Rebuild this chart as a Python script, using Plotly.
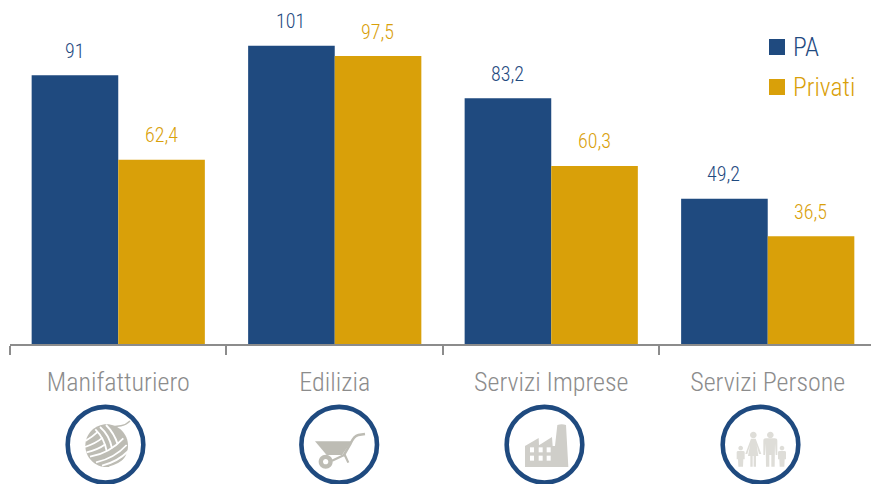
import re
import plotly.graph_objects as go

categories = ["Manifatturiero", "Edilizia", "Servizi Imprese", "Servizi Persone"]
pa_values = [91, 101, 83.2, 49.2]
privati_values = [62.4, 97.5, 60.3, 36.5]
series_names = ["PA", "Privati"]

BLUE = "#1F4A7F"
GOLD = "#D9A009"
GREY = "#8C8C8C"
W, H = 871, 484
L, B = 10, 140
FONT = '"Roboto Condensed", "Liberation Sans Narrow", Roboto, sans-serif'


def fmt(v):
    return f"{v:g}".replace(".", ",")


def px(path, ox=0, oy=0, sx=1 / 3, sy=1 / 3):
    """Convert an SVG path written in pixels to paper coordinates."""
    nums = iter(re.findall(r"[A-Za-z]|-?\d+\.?\d*", path))
    out = []
    for tok in nums:
        if tok.isalpha():
            out.append(tok)
        else:
            x = ox + float(tok) * sx
            y = oy + float(next(nums)) * sy
            out.append(f"{(x - L) / (W - L):.5f},{(H - B - y) / (H - B):.5f}")
    return " ".join(out)


def circ(cx, cy, r):
    return f"M{cx - r} {cy} C{cx - r} {cy - .552 * r} {cx - .552 * r} {cy - r} {cx} {cy - r} C{cx + .552 * r} {cy - r} {cx + r} {cy - .552 * r} {cx + r} {cy} C{cx + r} {cy + .552 * r} {cx + .552 * r} {cy + r} {cx} {cy + r} C{cx - .552 * r} {cy + r} {cx - r} {cy + .552 * r} {cx - r} {cy} Z"


def rect(x0, y0, x1, y1):
    return f"M{x0} {y0} L{x1} {y0} L{x1} {y1} L{x0} {y1} Z"


fig = go.Figure()
fig.add_bar(x=categories, y=pa_values, marker=dict(color=BLUE, line_width=0), name=series_names[0], showlegend=False)
fig.add_bar(x=categories, y=privati_values, marker=dict(color=GOLD, line_width=0), name=series_names[1], showlegend=False)

annotations = []
for values, color, shift in [(pa_values, BLUE, -44), (privati_values, GOLD, 43)]:
    for cat, v in zip(categories, values):
        annotations.append(dict(
            x=cat, y=v, text=fmt(v), showarrow=False, xshift=shift, yshift=24.6,
            yanchor="middle", font=dict(family=FONT, size=20, color=color, weight=300),
        ))

shapes = []


def add(path, fill=None, line=None, width=0, ox=0, oy=0, sx=1 / 3, sy=1 / 3):
    shapes.append(dict(
        type="path", xref="paper", yref="paper", path=px(path, ox, oy, sx, sy),
        fillcolor=fill or "rgba(0,0,0,0)",
        line=dict(color=line or "rgba(0,0,0,0)", width=width),
    ))


# legend
for name, color, yc in zip(series_names, [BLUE, GOLD], [47, 87]):
    add(rect(769, yc - 8, 785, yc + 8), fill=color, sx=1, sy=1)
    annotations.append(dict(
        xref="paper", yref="paper", x=(793 - L) / (W - L), y=(H - B - yc) / (H - B),
        text=name, showarrow=False, xanchor="left", yanchor="middle", xshift=-2.5,
        font=dict(family=FONT, size=25.5, color=color, weight=300),
    ))

# round frames
for cx in [105.5, 339.2, 544.5, 760.5]:
    add(circ(cx, 444.7, 37.8), fill="#FFFFFF", line=BLUE, width=4.6, sx=1, sy=1)

# yarn ball
Y = dict(ox=76, oy=415)
YC = "#BDBCB4"
add(circ(92, 92, 64), fill=YC, **Y)
add("M88 36 Q110 36 135 32 Q150 30 162 18", line=YC, width=1.5, **Y)
for p in [
    "M42 125 Q100 115 142 70", "M60 142 Q115 130 152 90", "M78 152 Q125 140 157 108", "M100 157 Q132 148 153 128",
    "M58 43 Q85 70 92 108", "M72 36 Q100 60 108 100", "M90 30 Q115 55 125 88",
    "M28 78 Q50 65 66 50", "M27 96 Q60 85 80 68", "M32 112 Q65 105 88 88",
]:
    add(p, line="#FFFFFF", width=1.8, **Y)

# wheelbarrow
WB = dict(ox=310, oy=420)
add("M15 64 L125 64 L96 105 L50 105 Z", fill=YC, **WB)
add("M100 108 L122 70 Q132 48 145 45 L165 42", line=YC, width=2.5, **WB)
add("M66 122 L104 104 L115 128", line=YC, width=2.2, **WB)
add(circ(47, 125, 21), fill=YC, **WB)
add(circ(47, 125, 8), fill="#FFFFFF", **WB)

# factory
F = dict(ox=440, oy=340)
FC = "#CFCEC9"
add("M255 381 L255 318 L296 294 L297 316 L336 291 L338 318 L345 318 L352 255 Q365 250 378 255 L385 381 Z", fill=FC, **F)
for y0 in (322, 347):
    for x0 in (270, 296, 320):
        add(rect(x0, y0, x0 + 12, y0 + 15), fill="#FFFFFF", **F)

# family
FM = dict(ox=730, oy=420)
FMC = "#DEDDD8"
add(circ(70, 45, 10), fill=FMC, **FM)
add("M63 56 L77 56 L94 102 L87 102 L80 75 L85 108 L78 108 L78 140 L71 140 L71 108 L68 108 L68 140 L61 140 L61 108 L54 108 L60 75 L52 102 L46 102 Z", fill=FMC, **FM)
add(circ(121, 45, 10), fill=FMC, **FM)
add("M100 62 Q100 55 108 55 L134 55 Q142 55 142 62 L142 105 L137 105 L135 70 L134 140 L124 140 L124 105 L118 105 L118 140 L108 140 L107 70 L105 105 L100 105 Z", fill=FMC, **FM)
for dx in (0, 124):
    add(circ(32 + dx, 84, 7), fill=FMC, **FM)
    add(f"M{20 + dx} 97 Q{20 + dx} 93 {25 + dx} 93 L{39 + dx} 93 Q{44 + dx} 93 {44 + dx} 97 L{44 + dx} 118 L{40 + dx} 118 L{39 + dx} 140 L{25 + dx} 140 L{24 + dx} 118 L{20 + dx} 118 Z", fill=FMC, **FM)

fig.update_layout(
    width=W, height=H,
    margin=dict(l=L, r=0, t=0, b=B),
    paper_bgcolor="#FFFFFF", plot_bgcolor="#FFFFFF",
    barmode="group", bargap=0.2, bargroupgap=0,
    font=dict(family=FONT),
    annotations=annotations, shapes=shapes,
    showlegend=False,
    xaxis=dict(
        type="category", categoryorder="array", categoryarray=categories,
        range=[-0.5, 3.477], tickson="boundaries", ticks="outside", ticklen=9, tickwidth=2,
        tickcolor=GREY, showline=True, linecolor=GREY, linewidth=2, showgrid=False,
        zeroline=False, ticklabelstandoff=14,
        tickfont=dict(family=FONT, size=26, color=GREY, weight=300),
    ),
    yaxis=dict(visible=False, range=[0, 116.5], fixedrange=True),
)

fig.write_html("out.html", post_script="document.body.style.margin='0';", config=dict(displayModeBar=False))
